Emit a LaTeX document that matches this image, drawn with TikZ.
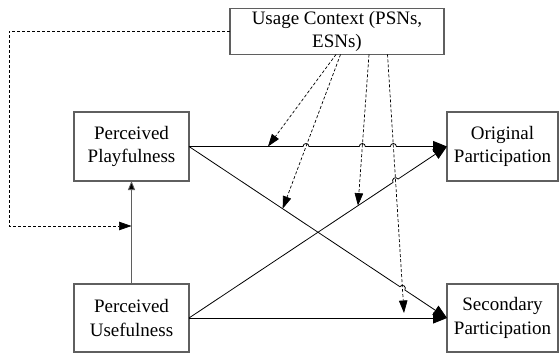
\documentclass[tikz,border=0pt]{standalone}
\usepackage{fontspec}
\setmainfont{Liberation Serif}
\usetikzlibrary{arrows.meta,calc}
\definecolor{boxgray}{RGB}{95,95,95}
\begin{document}
\begin{tikzpicture}[x=1pt,y=1pt,
  box/.style={draw=boxgray, line width=1.1pt, inner sep=0pt, outer sep=0pt,
    align=center, font=\fontsize{19}{23.5}\selectfont},
  conn/.style={line width=0.8pt, -{Triangle[length=14pt,width=11pt]}},
  small/.style={line width=0.8pt, draw=boxgray, -{Triangle[length=9pt,width=7pt,fill=black]}},
  dashy/.style={line width=0.7pt, dash pattern=on 3pt off 2pt, -{Triangle[length=12.5pt,width=8.5pt]}}
]
\useasboundingbox (0,0) rectangle (559,354);
\node[box, minimum width=214pt, minimum height=46pt] (uc) at (337,322.5) {Usage Context (PSNs,\\ESNs)};
\node[box, minimum width=115pt, minimum height=69pt] (pp) at (131.5,207.5) {Perceived\\Playfulness};
\node[box, minimum width=115pt, minimum height=68pt] (pu) at (131.5,36) {Perceived\\Usefulness};
\node[box, minimum width=111pt, minimum height=69pt] (op) at (502.5,207.5) {Original\\Participation};
\node[box, minimum width=111pt, minimum height=68pt] (sp) at (502.5,36) {Secondary\\Participation};

% solid connectors
\draw[small] (pu.north) -- (pp.south);
\draw[conn] (pu.east) -- (sp.west);
\draw[conn] (pp.east) -- ($(pp.east)!0.4419!(op.west)$) arc[start angle=180,end angle=0,radius=3pt]
  -- ($(pp.east)!0.6601!(op.west)$) arc[start angle=180,end angle=0,radius=3pt]
  -- ($(pp.east)!0.7806!(op.west)$) arc[start angle=180,end angle=0,radius=3pt]
  -- (op.west);
\draw[conn] (pu.east) -- ($(pu.east)!0.7909!(op.west)$) arc[start angle=213.6,end angle=33.6,radius=3pt]
  -- (op.west);
\draw[conn] (pp.east) -- ($(pp.east)!0.8174!(sp.west)$) arc[start angle=146.4,end angle=-33.6,radius=3pt]
  -- (sp.west);

% dashed connectors
\coordinate (lx) at (8.9,0);
\coordinate (jn) at (131.5,128);
\draw[dashy] (uc.west) -- (uc.west -| lx) |- (jn);
\coordinate (u1) at (336,299.5);
\coordinate (u2) at (340.5,299.5);
\coordinate (u3) at (369,299.5);
\coordinate (u4) at (387.5,299.5);
\coordinate (e1) at ($(pp.east)!0.3062!(op.west)$);
\coordinate (e2) at ($(pp.east)!0.363!(sp.west)$);
\coordinate (e3) at ($(pu.east)!0.655!(op.west)$);
\coordinate (e4) at (404,41);
\draw[dashy] (u1) -- (e1);
\draw[dashy] (u2) -- (e2);
\draw[dashy] (u3) -- (e3);
\draw[dashy] (u4) -- (e4);
\end{tikzpicture}
\end{document}
